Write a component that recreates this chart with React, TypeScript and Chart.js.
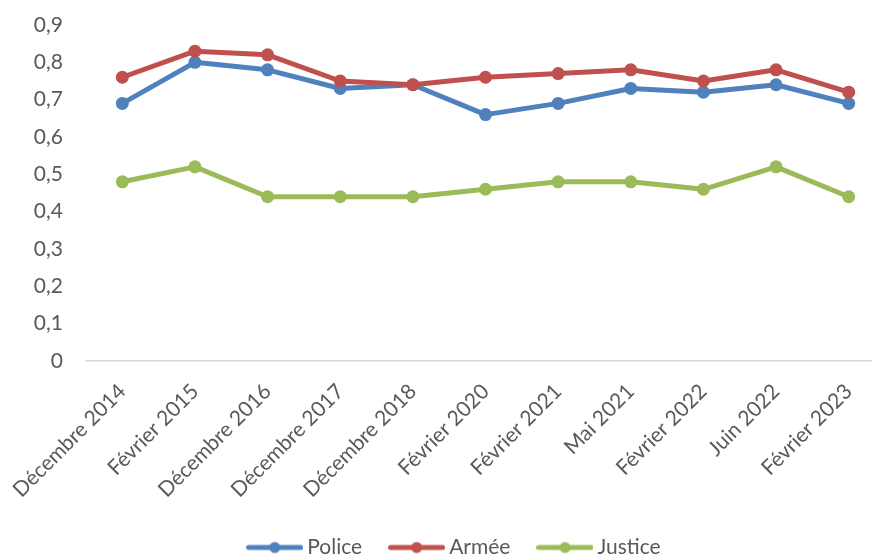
import React, { useEffect, useRef } from "react";
import { Chart, registerables } from "chart.js";

Chart.register(...registerables);

const categories = [
  "Décembre 2014",
  "Février 2015",
  "Décembre 2016",
  "Décembre 2017",
  "Décembre 2018",
  "Février 2020",
  "Février 2021",
  "Mai 2021",
  "Février 2022",
  "Juin 2022",
  "Février 2023",
];
const police = [0.69, 0.8, 0.78, 0.73, 0.74, 0.66, 0.69, 0.73, 0.72, 0.74, 0.69];
const armee = [0.76, 0.83, 0.82, 0.75, 0.74, 0.76, 0.77, 0.78, 0.75, 0.78, 0.72];
const justice = [0.48, 0.52, 0.44, 0.44, 0.44, 0.46, 0.48, 0.48, 0.46, 0.52, 0.44];
const yTickLabels = ["0", "0,1", "0,2", "0,3", "0,4", "0,5", "0,6", "0,7", "0,8", "0,9"];
const seriesNames = ["Police", "Armée", "Justice"];
const seriesColors = ["#4F81BD", "#C0504D", "#9BBB59"];

const CANVAS_W = 900;
const CANVAS_H = 568;

function makeLegendMarker(color: string): HTMLCanvasElement {
  const c = document.createElement("canvas");
  c.width = 57;
  c.height = 14;
  const ctx = c.getContext("2d")!;
  ctx.strokeStyle = color;
  ctx.lineWidth = 5;
  ctx.lineCap = "round";
  ctx.beginPath();
  ctx.moveTo(2.5, 7);
  ctx.lineTo(54.5, 7);
  ctx.stroke();
  ctx.fillStyle = color;
  ctx.beginPath();
  ctx.arc(28.5, 7, 5.5, 0, Math.PI * 2);
  ctx.fill();
  return c;
}

export default function App() {
  const ref = useRef<HTMLCanvasElement | null>(null);

  useEffect(() => {
    if (!ref.current) return;
    const values = [police, armee, justice];
    const markers = seriesColors.map(makeLegendMarker);
    const chart = new Chart(ref.current, {
      type: "line",
      data: {
        labels: categories,
        datasets: values.map((v, i) => ({
          label: seriesNames[i],
          data: v,
          borderColor: seriesColors[i],
          backgroundColor: seriesColors[i],
          pointBackgroundColor: seriesColors[i],
          pointBorderColor: seriesColors[i],
          borderWidth: 5,
          pointRadius: 6.5,
          pointBorderWidth: 0,
          borderJoinStyle: "round" as const,
          borderCapStyle: "round" as const,
          tension: 0,
          fill: false,
          order: 3 - i,
        })),
      },
      options: {
        responsive: false,
        animation: false,
        layout: { padding: { left: 28.5, right: 15, top: 25, bottom: 0 } },
        font: { family: "Lato", size: 21 },
        plugins: {
          tooltip: { enabled: false },
          legend: {
            position: "bottom",
            labels: {
              usePointStyle: true,
              pointStyleWidth: 44,
              padding: 32.5,
              color: "#595959",
              font: { family: "Lato", size: 21 },
              generateLabels: () =>
                seriesNames.map((name, i) => ({
                  text: name,
                  fillStyle: seriesColors[i],
                  strokeStyle: seriesColors[i],
                  lineWidth: 0,
                  pointStyle: markers[i],
                  hidden: false,
                  datasetIndex: i,
                  fontColor: "#595959",
                })),
            },
          },
        },
        scales: {
          x: {
            type: "category",
            offset: true,
            grid: { display: false, drawTicks: false },
            border: { display: true, color: "#D9D9D9", width: 1.5 },
            ticks: {
              color: "#595959",
              font: { family: "Lato", size: 21 },
              maxRotation: 45,
              minRotation: 45,
              autoSkip: false,
              padding: 18,
            },
            afterFit: (s: any) => {
              s.height = 143.5;
              s.paddingLeft = 0;
              s.paddingRight = 0;
            },
          },
          y: {
            min: 0,
            max: 0.9,
            grid: { display: false, drawTicks: false },
            border: { display: false },
            ticks: {
              stepSize: 0.1,
              color: "#595959",
              font: { family: "Lato", size: 21 },
              padding: 23,
              callback: (_v: any, idx: number) => yTickLabels[idx],
            },
            afterFit: (s: any) => {
              s.width = 57.5;
              s.paddingTop = 0;
              s.paddingBottom = 0;
            },
          },
        },
      },
    });
    return () => chart.destroy();
  }, []);

  return (
    <div
      style={{
        position: "fixed",
        left: 0,
        top: 0,
        width: 872,
        height: 557,
        overflow: "hidden",
        background: "#fff",
      }}
    >
      <canvas ref={ref} width={CANVAS_W} height={CANVAS_H} style={{ display: "block" }} />
    </div>
  );
}
